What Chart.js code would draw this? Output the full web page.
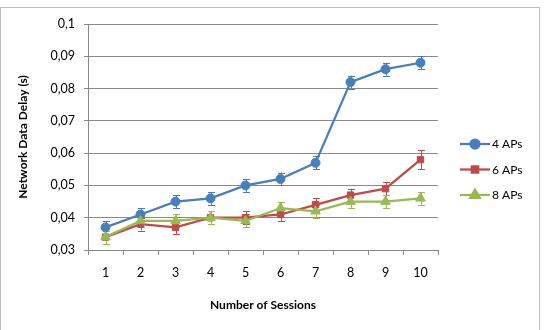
<!DOCTYPE html>
<html>
<head>
<meta charset="utf-8">
<script src="https://cdn.jsdelivr.net/npm/chart.js@4/dist/chart.umd.min.js"></script>
<style>
  html, body { margin: 0; padding: 0; background: #fff; }
  #wrap { position: relative; width: 544px; height: 330px; overflow: hidden; }
  #frame { position: absolute; left: 0; top: 7px; width: 540px; height: 340px; border: 1px solid #bdbdbd; box-sizing: border-box; }
  canvas { position: absolute; left: 0; top: 0; }
</style>
</head>
<body>
<div id="wrap">
  <div id="frame"></div>
  <canvas id="c" width="544" height="330"></canvas>
</div>
<script>
const categories = ['1', '2', '3', '4', '5', '6', '7', '8', '9', '10'];
const seriesNames = ['4 APs', '6 APs', '8 APs'];
const aps4 = [0.037, 0.041, 0.045, 0.046, 0.050, 0.052, 0.057, 0.082, 0.086, 0.088];
const aps4Err = [0.002, 0.002, 0.002, 0.002, 0.002, 0.002, 0.002, 0.002, 0.002, 0.002];
const aps6 = [0.034, 0.038, 0.037, 0.040, 0.040, 0.041, 0.044, 0.047, 0.049, 0.058];
const aps6Err = [0.002, 0.002, 0.002, 0.002, 0.002, 0.002, 0.002, 0.002, 0.002, 0.003];
const aps8 = [0.034, 0.039, 0.039, 0.040, 0.039, 0.043, 0.042, 0.045, 0.045, 0.046];
const aps8Err = [0.002, 0.002, 0.002, 0.002, 0.002, 0.002, 0.002, 0.002, 0.002, 0.002];
const yMin = 0.03, yMax = 0.1, yStep = 0.01;

const FONT = "Lato, 'Open Sans', sans-serif";
const colors = ['#4A7EBB', '#BE4B48', '#98B954'];
const styles = ['circle', 'rect', 'triangle'];
const radii = [4.5, 4.5, 5.5];

function mkDataset(i, data, err) {
  return {
    label: seriesNames[i], data: data, errors: err,
    borderColor: colors[i], backgroundColor: colors[i],
    pointBackgroundColor: colors[i], pointBorderColor: colors[i],
    pointStyle: styles[i], pointRadius: radii[i], pointBorderWidth: 1,
    borderWidth: 2.25, tension: 0, order: 3 - i
  };
}

const errorBars = {
  id: 'errorBars',
  beforeDatasetsDraw(chart) {
    const ctx = chart.ctx, ys = chart.scales.y;
    chart.data.datasets.forEach((ds, di) => {
      const meta = chart.getDatasetMeta(di);
      ctx.save();
      ctx.strokeStyle = ds.borderColor; ctx.lineWidth = 1;
      meta.data.forEach((pt, i) => {
        const v = ds.data[i], e = ds.errors[i];
        const y1 = ys.getPixelForValue(v - e), y2 = ys.getPixelForValue(v + e);
        const x = Math.round(pt.x) + 0.5;
        ctx.beginPath();
        ctx.moveTo(x, y1); ctx.lineTo(x, y2);
        ctx.moveTo(x - 3.5, Math.round(y1) + 0.5); ctx.lineTo(x + 3.5, Math.round(y1) + 0.5);
        ctx.moveTo(x - 3.5, Math.round(y2) + 0.5); ctx.lineTo(x + 3.5, Math.round(y2) + 0.5);
        ctx.stroke();
      });
      ctx.restore();
    });
  }
};

const sideLegend = {
  id: 'sideLegend',
  afterDraw(chart) {
    const ctx = chart.ctx;
    const x0 = 460, y0 = 144, gap = 25.5;
    chart.data.datasets.forEach((ds, i) => {
      const y = y0 + i * gap;
      ctx.save();
      ctx.strokeStyle = ds.borderColor; ctx.lineWidth = 2.25;
      ctx.beginPath(); ctx.moveTo(x0, y); ctx.lineTo(x0 + 30, y); ctx.stroke();
      Chart.helpers.drawPoint(ctx, {
        pointStyle: ds.pointStyle, radius: ds.pointRadius, borderWidth: 1, rotation: 0
      }, x0 + 15, y);
      ctx.fillStyle = ds.backgroundColor;
      ctx.fill();
      ctx.fillStyle = '#000';
      ctx.font = '12px ' + FONT;
      ctx.textBaseline = 'middle';
      ctx.textAlign = 'left';
      ctx.fillText(ds.label, x0 + 32, y + 0.5);
      ctx.restore();
    });
  }
};

new Chart(document.getElementById('c'), {
  type: 'line',
  data: {
    labels: categories,
    datasets: [mkDataset(0, aps4, aps4Err), mkDataset(1, aps6, aps6Err), mkDataset(2, aps8, aps8Err)]
  },
  options: {
    responsive: false,
    animation: false,
    layout: { padding: { top: 24, left: 0, right: 106, bottom: 0 } },
    plugins: { legend: { display: false }, tooltip: { enabled: false } },
    scales: {
      x: {
        offset: true,
        grid: { offset: true, drawOnChartArea: false, tickLength: 5, color: '#898989', tickColor: '#898989' },
        border: { color: '#898989', width: 1 },
        ticks: { color: '#000', font: { family: FONT, size: 12.5 }, padding: 10, maxRotation: 0 },
        title: { display: true, text: 'Number of Sessions', color: '#000',
                 font: { family: FONT, size: 12, weight: 'bold' }, padding: { top: 0, bottom: 18 } },
        afterFit(s) { s.height = 80; }
      },
      y: {
        min: yMin, max: yMax,
        grid: { color: '#898989', tickLength: 4, tickColor: '#898989' },
        border: { color: '#898989', width: 1 },
        ticks: {
          stepSize: yStep, color: '#000', font: { family: FONT, size: 12.5 }, padding: 9,
          callback: v => parseFloat(v.toFixed(2)).toString().replace('.', ',')
        },
        title: { display: true, text: 'Network Data Delay (s)', color: '#000',
                 font: { family: FONT, size: 12, weight: 'bold' }, padding: { top: 16, bottom: 0 } },
        afterFit(s) { s.width = 88; }
      }
    }
  },
  plugins: [errorBars, sideLegend]
});
</script>
</body>
</html>
